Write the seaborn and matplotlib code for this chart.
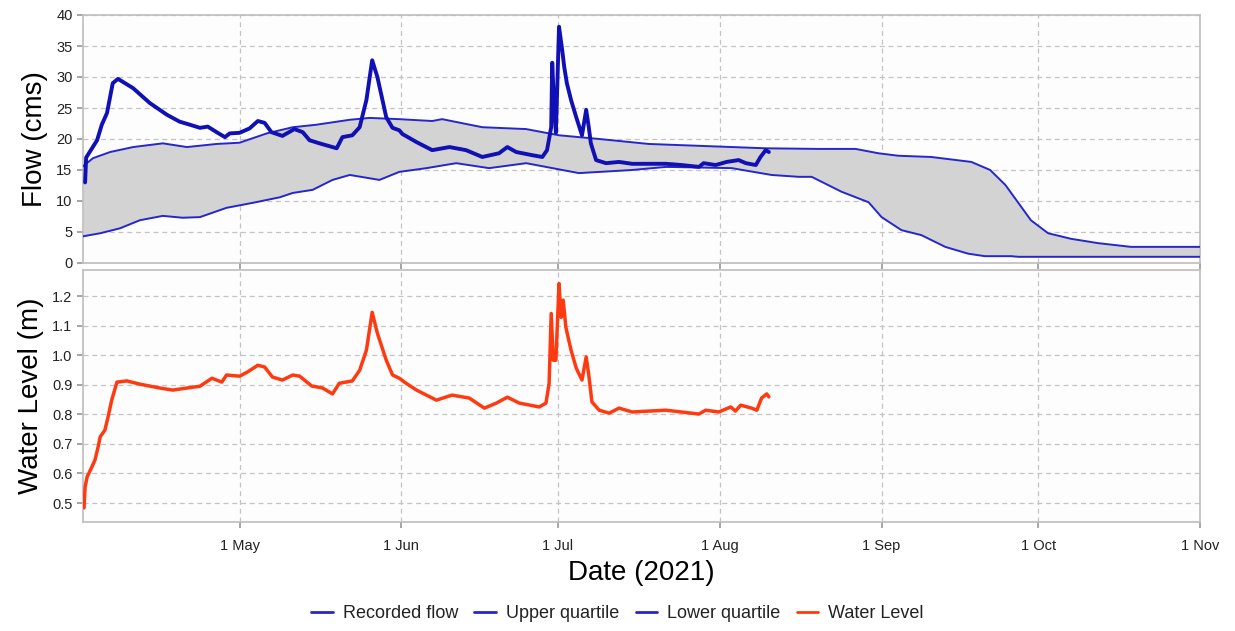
import numpy as np
import pandas as pd
import matplotlib
matplotlib.use("Agg")
import matplotlib.pyplot as plt
import seaborn as sns
from matplotlib.lines import Line2D

START = "2021-04-01"

# Recorded flow (days after 1 Apr 2021, cms)
flow_days = [0.4, 0.6, 2.7, 3.6, 4.6, 5.7, 6.7, 9.6, 12.8, 16.1, 18.5, 20.5, 22.4, 23.9, 25.6,
             27.2, 28.1, 30.0, 31.9, 33.5, 34.8, 36.1, 38.2, 40.5, 42.1, 43.4, 45.3, 47.8, 48.6,
             49.7, 51.6, 53.0, 54.3, 55.4, 56.4, 58.1, 59.3, 60.6, 61.2, 63.9, 66.9, 70.2, 73.4,
             76.5, 79.7, 81.3, 83.0, 86.0, 88.0, 88.9, 89.7, 89.9, 90.2, 90.6, 91.2, 91.8, 92.2,
             92.7, 93.5, 94.5, 95.6, 96.4, 96.9, 97.3, 98.3, 100.2, 102.7, 105.2, 111.7, 114.7,
             118.0, 118.9, 121.2, 123.3, 125.6, 127.0, 128.9, 129.8, 130.8, 131.4]
flow_vals = [13.0, 17.0, 19.8, 22.3, 24.2, 29.0, 29.7, 28.2, 25.8, 23.9, 22.8, 22.3, 21.8, 22.0, 21.1,
             20.3, 20.9, 21.0, 21.7, 22.9, 22.6, 21.1, 20.5, 21.6, 21.1, 19.8, 19.3, 18.7, 18.5,
             20.3, 20.6, 21.9, 26.3, 32.7, 30.0, 23.5, 21.8, 21.4, 20.8, 19.5, 18.2, 18.7, 18.2,
             17.1, 17.7, 18.7, 17.9, 17.4, 17.1, 18.2, 21.9, 32.3, 26.3, 21.0, 38.1, 34.4, 31.6,
             29.0, 26.3, 23.5, 20.6, 24.7, 21.9, 19.3, 16.6, 16.1, 16.3, 16.0, 16.0, 15.8,
             15.5, 16.1, 15.8, 16.3, 16.6, 16.1, 15.8, 17.1, 18.2, 17.9]

# Upper quartile
upper_days = [0.0, 1.9, 5.2, 9.6, 15.3, 19.9, 25.6, 30.0, 35.2, 40.2, 44.7, 51.1, 54.9, 60.6, 66.9,
              68.8, 76.5, 84.9, 91.2, 98.9, 108.4, 118.0, 130.8, 140.9, 148.0, 152.4, 156.2, 162.5,
              170.2, 173.8, 176.7, 179.2, 181.6, 184.9, 189.3, 194.5, 200.8, 214.0]
upper_vals = [15.6, 16.9, 17.9, 18.7, 19.3, 18.7, 19.2, 19.4, 20.9, 21.9, 22.3, 23.1, 23.4, 23.2, 22.9,
              23.2, 21.9, 21.6, 20.6, 20.0, 19.2, 18.9, 18.5, 18.4, 18.4, 17.7, 17.3, 17.1,
              16.3, 15.0, 12.6, 9.7, 6.9, 4.8, 3.9, 3.2, 2.6, 2.6]

# Lower quartile
lower_days = [0.0, 3.3, 7.1, 10.9, 15.3, 19.1, 22.4, 27.5, 32.5, 37.7, 40.2, 44.0, 47.8, 51.1, 56.8,
              60.6, 65.8, 71.5, 77.8, 84.9, 95.0, 105.2, 111.7, 124.3, 131.9, 137.1, 139.6, 145.3,
              150.5, 153.0, 156.8, 160.6, 165.2, 169.6, 172.8, 177.8, 179.2, 214.0]
lower_vals = [4.3, 4.8, 5.6, 6.9, 7.6, 7.3, 7.4, 8.9, 9.7, 10.6, 11.3, 11.8, 13.4, 14.2, 13.4,
              14.7, 15.3, 16.1, 15.3, 16.1, 14.5, 15.0, 15.5, 15.3, 14.2, 13.9, 13.9, 11.5,
              9.8, 7.4, 5.3, 4.5, 2.6, 1.5, 1.1, 1.1, 1.0, 1.0]

# Water level (m)
wl_days = [0.2, 0.4, 0.8, 1.7, 2.3, 2.9, 3.3, 4.2, 4.8, 5.5, 6.5, 8.4, 10.9, 14.7, 17.2, 19.9, 22.4,
           24.7, 26.6, 27.5, 30.0, 31.5, 33.5, 34.8, 36.3, 38.2, 40.2, 41.5, 43.8, 45.9, 47.8, 49.1,
           51.6, 53.0, 54.3, 55.4, 56.4, 58.1, 59.3, 60.6, 61.9, 63.9, 67.7, 70.7, 74.0, 76.9, 79.2,
           81.3, 83.6, 87.4, 88.7, 89.3, 89.7, 90.1, 90.6, 91.2, 91.6, 92.0, 92.5, 93.5, 94.5, 95.6,
           96.4, 96.9, 97.5, 98.9, 100.8, 102.7, 105.2, 111.7, 118.0, 119.3, 121.8, 124.1, 125.0,
           126.0, 128.1, 129.1, 130.0, 131.0, 131.4]
wl_vals = [0.484, 0.555, 0.589, 0.622, 0.646, 0.690, 0.724, 0.747, 0.791, 0.848, 0.909, 0.913, 0.902,
           0.889, 0.882, 0.889, 0.895, 0.922, 0.909, 0.933, 0.929, 0.943, 0.966, 0.960, 0.926, 0.916,
           0.933, 0.929, 0.896, 0.889, 0.869, 0.905, 0.913, 0.949, 1.017, 1.145, 1.074, 0.983, 0.933,
           0.922, 0.905, 0.882, 0.848, 0.865, 0.855, 0.821, 0.838, 0.858, 0.838, 0.825, 0.838, 0.905,
           1.141, 0.983, 0.983, 1.242, 1.128, 1.186, 1.095, 1.017, 0.956, 0.916, 0.994, 0.933, 0.842,
           0.814, 0.804, 0.821, 0.808, 0.814, 0.801, 0.814, 0.808, 0.825, 0.811, 0.831, 0.821, 0.814,
           0.855, 0.869, 0.859]

month_ticks = ["2021-05-01", "2021-06-01", "2021-07-01", "2021-08-01", "2021-09-01", "2021-10-01", "2021-11-01"]
month_labels = ["1 May", "1 Jun", "1 Jul", "1 Aug", "1 Sep", "1 Oct", "1 Nov"]
legend_labels = ["Recorded flow", "Upper quartile", "Lower quartile", "Water Level"]


def to_dates(days):
    return pd.Timestamp(START) + pd.to_timedelta(np.asarray(days, dtype=float), unit="D")


sns.set_theme(style="whitegrid")
plt.rcParams["font.family"] = ["Liberation Sans", "DejaVu Sans"]

flow_df = pd.DataFrame({"date": to_dates(flow_days), "flow": flow_vals})
up_df = pd.DataFrame({"date": to_dates(upper_days), "flow": upper_vals})
lo_df = pd.DataFrame({"date": to_dates(lower_days), "flow": lower_vals})
wl_df = pd.DataFrame({"date": to_dates(wl_days), "level": wl_vals})

fig = plt.figure(figsize=(12.35, 6.31), dpi=100)
ax1 = fig.add_axes([83 / 1235, 1 - 263 / 631, 1117 / 1235, 248 / 631])
ax2 = fig.add_axes([83 / 1235, 1 - 522 / 631, 1117 / 1235, 252 / 631], sharex=ax1)

BLUE = "#1010b4"
QBLUE = "#2626cc"
RED = "#ff3a10"

grid_days = np.union1d(upper_days, lower_days)
up_i = np.interp(grid_days, upper_days, upper_vals)
lo_i = np.interp(grid_days, lower_days, lower_vals)
ax1.fill_between(to_dates(grid_days), lo_i, up_i, color="#d3d3d3", linewidth=0, zorder=1)

sns.lineplot(data=up_df, x="date", y="flow", ax=ax1, color=QBLUE, linewidth=1.4, zorder=3)
sns.lineplot(data=lo_df, x="date", y="flow", ax=ax1, color=QBLUE, linewidth=1.4, zorder=3)
sns.lineplot(data=flow_df, x="date", y="flow", ax=ax1, color=BLUE, linewidth=2.8, zorder=4)
sns.lineplot(data=wl_df, x="date", y="level", ax=ax2, color=RED, linewidth=2.5, zorder=4)

xmin, xmax = pd.Timestamp("2021-04-01"), pd.Timestamp("2021-11-01")
for ax in (ax1, ax2):
    ax.set_facecolor("#fdfdfd")
    ax.set_xlim(xmin, xmax)
    ax.grid(True, linestyle=(0, (4, 3)), color="#c4c4c4", linewidth=0.9)
    for s in ax.spines.values():
        s.set_color("#bdbdbd")
        s.set_linewidth(1.2)
    ax.tick_params(axis="both", which="both", length=4, color="#9a9a9a", direction="out",
                   labelsize=10.5, labelcolor="#222222", left=True, bottom=True)
    ax.set_xticks(pd.to_datetime(month_ticks))

ax1.set_ylim(0, 40)
ax1.set_yticks(np.arange(0, 41, 5))
ax1.tick_params(axis="x", labelbottom=False)
ax1.set_xlabel("")
ax1.set_ylabel("Flow (cms)", fontsize=20, color="#000000", labelpad=6)

ax2.set_ylim(0.436, 1.288)
ax2.set_yticks([0.5, 0.6, 0.7, 0.8, 0.9, 1.0, 1.1, 1.2])
ax2.set_yticklabels(["0.5", "0.6", "0.7", "0.8", "0.9", "1.0", "1.1", "1.2"])
ax2.set_xticklabels(month_labels)
ax2.tick_params(axis="x", pad=8)
ax2.set_ylabel("Water Level (m)", fontsize=20, color="#000000", labelpad=6)
ax2.set_xlabel("Date (2021)", fontsize=20, color="#000000", labelpad=5)

handles = [Line2D([], [], color=QBLUE, lw=2.0),
           Line2D([], [], color=QBLUE, lw=2.0),
           Line2D([], [], color=QBLUE, lw=2.0),
           Line2D([], [], color=RED, lw=2.0)]
leg = fig.legend(handles, legend_labels, loc="center", bbox_to_anchor=(0.5, 1 - 614 / 631), ncol=4,
                 frameon=False, fontsize=13, handlelength=1.2, handletextpad=0.55, columnspacing=0.9)
for t in leg.get_texts():
    t.set_color("#222222")

fig.savefig("out.png", dpi=100, facecolor="white")
